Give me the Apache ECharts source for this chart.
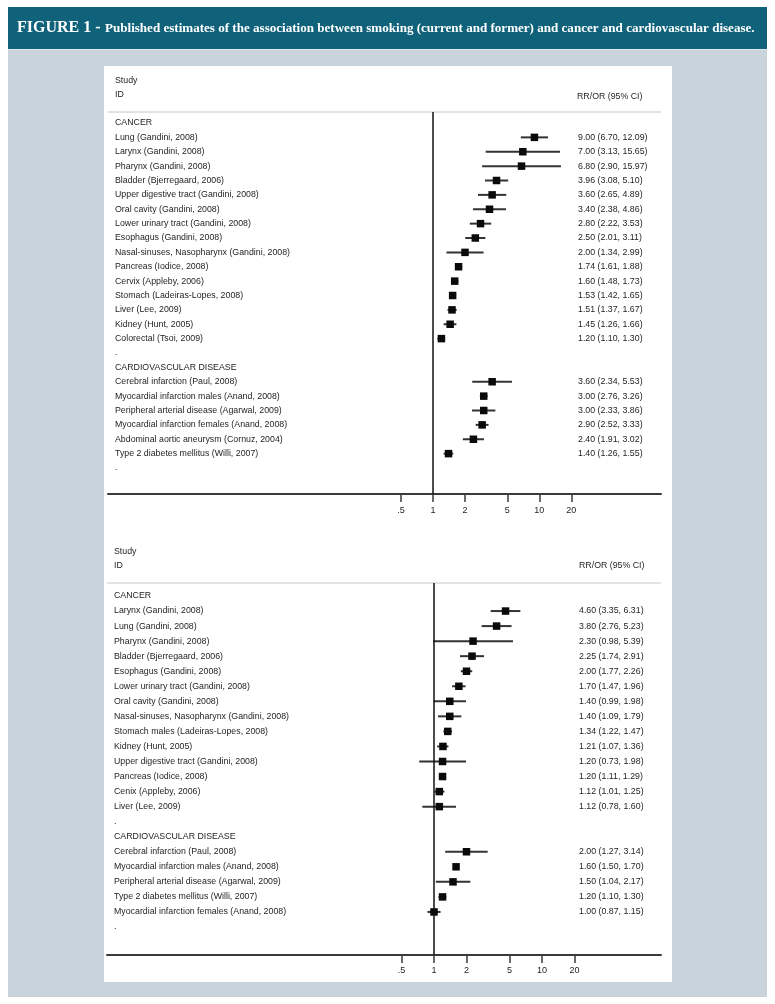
<!DOCTYPE html>
<html>
<head>
<meta charset="utf-8">
<script src="https://cdn.jsdelivr.net/npm/echarts@6/dist/echarts.min.js"></script>
<style>
html,body{margin:0;padding:0;background:#ffffff;}
#chart{width:775px;height:1004px;}
</style>
</head>
<body>
<div id="chart"></div>
<script>
// ---------------- DATA ----------------
const titleLead = "FIGURE 1 -";
const titleText = "Published estimates of the association between smoking (current and former) and cancer and cardiovascular disease.";
const sectionTitles = ["CANCER", "CARDIOVASCULAR DISEASE"];
const headerStudy = "Study";
const headerId = "ID";
const headerEffect = "RR/OR (95% CI)";
const xTicks = [0.5, 1, 2, 5, 10, 20];
const xTickLabels = [".5", "1", "2", "5", "10", "20"];

// Panel 1
const p1CancerStudies = ["Lung (Gandini, 2008)", "Larynx (Gandini, 2008)", "Pharynx (Gandini, 2008)", "Bladder (Bjerregaard, 2006)", "Upper digestive tract (Gandini, 2008)", "Oral cavity (Gandini, 2008)", "Lower urinary tract (Gandini, 2008)", "Esophagus (Gandini, 2008)", "Nasal-sinuses, Nasopharynx (Gandini, 2008)", "Pancreas (Iodice, 2008)", "Cervix (Appleby, 2006)", "Stomach (Ladeiras-Lopes, 2008)", "Liver (Lee, 2009)", "Kidney (Hunt, 2005)", "Colorectal (Tsoi, 2009)"];
const p1CancerRR = [9.00, 7.00, 6.80, 3.96, 3.60, 3.40, 2.80, 2.50, 2.00, 1.74, 1.60, 1.53, 1.51, 1.45, 1.20];
const p1CancerLo = [6.70, 3.13, 2.90, 3.08, 2.65, 2.38, 2.22, 2.01, 1.34, 1.61, 1.48, 1.42, 1.37, 1.26, 1.10];
const p1CancerHi = [12.09, 15.65, 15.97, 5.10, 4.89, 4.86, 3.53, 3.11, 2.99, 1.88, 1.73, 1.65, 1.67, 1.66, 1.30];
const p1CvdStudies = ["Cerebral infarction (Paul, 2008)", "Myocardial infarction males (Anand, 2008)", "Peripheral arterial disease (Agarwal, 2009)", "Myocardial infarction females (Anand, 2008)", "Abdominal aortic aneurysm (Cornuz, 2004)", "Type 2 diabetes mellitus (Willi, 2007)"];
const p1CvdRR = [3.60, 3.00, 3.00, 2.90, 2.40, 1.40];
const p1CvdLo = [2.34, 2.76, 2.33, 2.52, 1.91, 1.26];
const p1CvdHi = [5.53, 3.26, 3.86, 3.33, 3.02, 1.55];

// Panel 2
const p2CancerStudies = ["Larynx (Gandini, 2008)", "Lung (Gandini, 2008)", "Pharynx (Gandini, 2008)", "Bladder (Bjerregaard, 2006)", "Esophagus (Gandini, 2008)", "Lower urinary tract (Gandini, 2008)", "Oral cavity (Gandini, 2008)", "Nasal-sinuses, Nasopharynx (Gandini, 2008)", "Stomach males (Ladeiras-Lopes, 2008)", "Kidney (Hunt, 2005)", "Upper digestive tract (Gandini, 2008)", "Pancreas (Iodice, 2008)", "Cenix (Appleby, 2006)", "Liver (Lee, 2009)"];
const p2CancerRR = [4.60, 3.80, 2.30, 2.25, 2.00, 1.70, 1.40, 1.40, 1.34, 1.21, 1.20, 1.20, 1.12, 1.12];
const p2CancerLo = [3.35, 2.76, 0.98, 1.74, 1.77, 1.47, 0.99, 1.09, 1.22, 1.07, 0.73, 1.11, 1.01, 0.78];
const p2CancerHi = [6.31, 5.23, 5.39, 2.91, 2.26, 1.96, 1.98, 1.79, 1.47, 1.36, 1.98, 1.29, 1.25, 1.60];
const p2CvdStudies = ["Cerebral infarction (Paul, 2008)", "Myocardial infarction males (Anand, 2008)", "Peripheral arterial disease (Agarwal, 2009)", "Type 2 diabetes mellitus (Willi, 2007)", "Myocardial infarction females (Anand, 2008)"];
const p2CvdRR = [2.00, 1.60, 1.50, 1.20, 1.00];
const p2CvdLo = [1.27, 1.50, 1.04, 1.10, 0.87];
const p2CvdHi = [3.14, 1.70, 2.17, 1.30, 1.15];

// ---------------- BUILD ----------------
function buildRows(cs, cr, cl, ch, vs, vr, vl, vh) {
  const rows = [];
  rows.push({label: sectionTitles[0]});
  cs.forEach((s, i) => rows.push({label: s, est: cr[i], lo: cl[i], hi: ch[i]}));
  rows.push({label: "."});
  rows.push({label: sectionTitles[1]});
  vs.forEach((s, i) => rows.push({label: s, est: vr[i], lo: vl[i], hi: vh[i]}));
  rows.push({label: "."});
  rows.forEach((r, i) => r.row = i);
  return rows;
}
const rows1 = buildRows(p1CancerStudies, p1CancerRR, p1CancerLo, p1CancerHi, p1CvdStudies, p1CvdRR, p1CvdLo, p1CvdHi);
const rows2 = buildRows(p2CancerStudies, p2CancerRR, p2CancerLo, p2CancerHi, p2CvdStudies, p2CvdRR, p2CvdLo, p2CvdHi);

const FONT = "'Liberation Sans', Arial, sans-serif";
const TXT = '#1e1e1e';
const fmt = v => v.toFixed(2);

// layout for each panel
const panels = [
  {rows: rows1, left: 108, right: 661, top: 112, axisY: 494, row0: 123, rowStep: 14.375,
   onePx: 433, twoPx: 32, labelX: 115, valueX: 578, studyY: 81, idY: 95, effX: 577, effY: 97, margin: 12},
  {rows: rows2, left: 107, right: 661, top: 583, axisY: 955, row0: 596, rowStep: 15.045,
   onePx: 434, twoPx: 32.5, labelX: 114, valueX: 579, studyY: 552, idY: 566, effX: 579, effY: 566, margin: 11}
];

const grids = [], xAxes = [], yAxes = [], series = [], graphics = [];

// backgrounds
graphics.push({type: 'rect', z: -10, shape: {x: 8, y: 7, width: 759, height: 42}, style: {fill: '#10627b'}});
graphics.push({type: 'rect', z: -10, shape: {x: 8, y: 49, width: 759, height: 1}, style: {fill: '#dfe6ec'}});
graphics.push({type: 'rect', z: -10, shape: {x: 8, y: 50, width: 759, height: 947}, style: {fill: '#c9d3dc'}});
graphics.push({type: 'rect', z: -9, shape: {x: 104, y: 66, width: 568, height: 916}, style: {fill: '#ffffff'}});

// title
graphics.push({type: 'text', z: 5, x: 17, y: 28, style: {text: titleLead, fill: '#ffffff', font: "bold 16px 'Liberation Serif', 'DejaVu Serif', serif", verticalAlign: 'middle'}});
(function () {
  const c = document.createElement('canvas').getContext('2d');
  c.font = "bold 12px 'Liberation Serif'";
  const w = c.measureText(titleText).width;
  const size = Math.min(13.5, 12 * 650 / w);
  graphics.push({type: 'text', z: 5, x: 105, y: 29, style: {text: titleText, fill: '#ffffff', font: "bold " + size.toFixed(2) + "px 'Liberation Serif', 'DejaVu Serif', serif", verticalAlign: 'middle'}});
})();

panels.forEach((p, k) => {
  const minV = Math.pow(2, (p.left - p.onePx) / p.twoPx);
  const maxV = Math.pow(2, (p.right - p.onePx) / p.twoPx);
  grids.push({left: p.left, width: p.right - p.left, top: p.top, height: p.axisY - p.top, containLabel: false});
  xAxes.push({
    type: 'log', logBase: 2, gridIndex: k, min: minV, max: maxV, position: 'bottom',
    axisLine: {show: true, onZero: false, lineStyle: {color: '#3a3a3a', width: 2}},
    axisTick: {show: true, customValues: xTicks, length: 8, lineStyle: {color: '#3a3a3a', width: 1.5}},
    axisLabel: {show: true, customValues: xTicks, margin: p.margin, fontSize: 9, fontFamily: FONT, color: TXT,
      formatter: v => { const i = xTicks.findIndex(t => Math.abs(t - v) < 1e-6); return i >= 0 ? xTickLabels[i] : ''; }},
    splitLine: {show: false}, minorTick: {show: false}
  });
  yAxes.push({
    type: 'value', gridIndex: k, inverse: true,
    min: (p.top - p.row0) / p.rowStep, max: (p.axisY - p.row0) / p.rowStep,
    show: false, splitLine: {show: false}
  });
  // header texts and separator
  graphics.push({type: 'text', x: p.labelX, y: p.studyY, style: {text: headerStudy, fill: TXT, font: "8.8px " + FONT, verticalAlign: 'middle'}});
  graphics.push({type: 'text', x: p.labelX, y: p.idY, style: {text: headerId, fill: TXT, font: "8.8px " + FONT, verticalAlign: 'middle'}});
  graphics.push({type: 'text', x: p.effX, y: p.effY, style: {text: headerEffect, fill: TXT, font: "8.8px " + FONT, verticalAlign: 'middle'}});
  graphics.push({type: 'line', shape: {x1: p.left, y1: p.top, x2: p.right, y2: p.top}, style: {stroke: '#e2e2e2', lineWidth: 2}});

  const rows = p.rows;
  series.push({
    type: 'custom', xAxisIndex: k, yAxisIndex: k, clip: false,
    data: rows.map(r => [r.est != null ? r.est : 1, r.row]),
    renderItem: function (params, api) {
      const r = rows[params.dataIndex];
      const y = api.coord([1, r.row])[1];
      const children = [{
        type: 'text', x: p.labelX, y: y,
        style: {text: r.label, fill: TXT, font: "8.8px " + FONT, verticalAlign: 'middle'}
      }];
      if (r.est != null) {
        const a = api.coord([r.lo, r.row]);
        const b = api.coord([r.hi, r.row]);
        const c = api.coord([r.est, r.row]);
        const s = 7.5;
        children.push({type: 'line', shape: {x1: a[0], y1: y, x2: b[0], y2: y}, style: {stroke: '#333333', lineWidth: 2}});
        children.push({type: 'rect', shape: {x: c[0] - s / 2, y: y - s / 2, width: s, height: s}, style: {fill: '#0a0a0a'}});
        children.push({type: 'text', x: p.valueX, y: y,
          style: {text: fmt(r.est) + ' (' + fmt(r.lo) + ', ' + fmt(r.hi) + ')', fill: TXT, font: "8.8px " + FONT, verticalAlign: 'middle'}});
      }
      return {type: 'group', children: children};
    },
    markLine: {
      silent: true, symbol: 'none', label: {show: false},
      lineStyle: {color: '#111111', width: 1.5, type: 'solid'},
      data: [{xAxis: 1}]
    },
    z: 3
  });
});

const chart = echarts.init(document.getElementById('chart'), null, {renderer: 'canvas'});
chart.setOption({
  animation: false,
  backgroundColor: '#ffffff',
  grid: grids, xAxis: xAxes, yAxis: yAxes, series: series,
  graphic: graphics
});
</script>
</body>
</html>
